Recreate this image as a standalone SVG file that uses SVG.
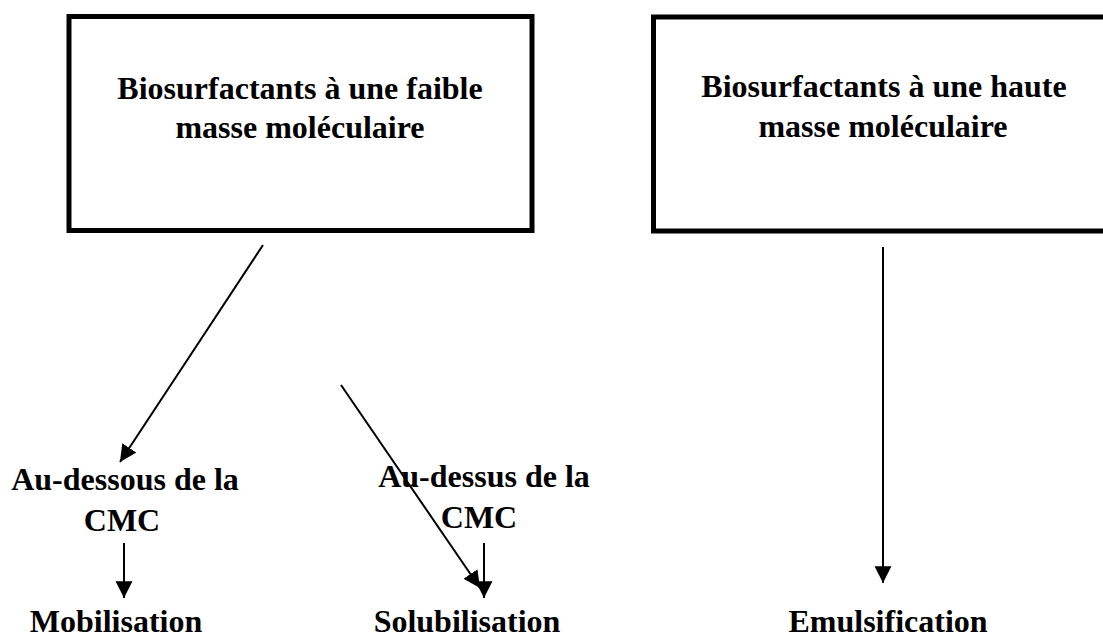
<svg xmlns="http://www.w3.org/2000/svg" width="1103" height="637" viewBox="0 0 1103 637">
<style>
.box{fill:#fff;stroke:#000;stroke-width:5}
.t{font-family:'Liberation Serif','Times New Roman',Times,serif;font-weight:700;font-size:32px;fill:#000;text-anchor:middle}
.c{stroke:#000;stroke-width:2;fill:none;marker-end:url(#ah)}
</style>
<defs>
<marker id="ah" markerUnits="userSpaceOnUse" markerWidth="18" markerHeight="18" viewBox="0 0 16 16" refX="15" refY="8" orient="auto">
<path d="M0,0.5 L15,8 L0,15.5 Z" fill="#000"/>
</marker>
</defs>
<rect width="1103" height="637" fill="#fff"/>
<g id="n1">
<rect class="box" x="69" y="16.5" width="463" height="214"/>
<text class="t" x="300" y="99">Biosurfactants à une faible</text>
<text class="t" x="300" y="138">masse moléculaire</text>
</g>
<g id="n2">
<rect class="box" x="653.5" y="17" width="470" height="214"/>
<text class="t" x="884" y="97">Biosurfactants à une haute</text>
<text class="t" x="883" y="137">masse moléculaire</text>
</g>
<g id="n3">
<text class="t" x="125" y="490">Au-dessous de la</text>
<text class="t" x="122" y="531">CMC</text>
</g>
<g id="n4">
<text class="t" x="484" y="487">Au-dessus de la</text>
<text class="t" x="479" y="528">CMC</text>
</g>
<g id="n5"><text class="t" x="116" y="632">Mobilisation</text></g>
<g id="n6"><text class="t" x="467" y="632">Solubilisation</text></g>
<g id="n7"><text class="t" x="888" y="632">Emulsification</text></g>
<g id="connectors">
<line class="c" x1="263" y1="245" x2="120" y2="462"/>
<line class="c" x1="341" y1="385" x2="480" y2="588"/>
<line class="c" x1="124" y1="543" x2="124" y2="598"/>
<line class="c" x1="484" y1="543" x2="484" y2="598"/>
<line class="c" x1="883" y1="247" x2="883" y2="583"/>
</g>
</svg>
